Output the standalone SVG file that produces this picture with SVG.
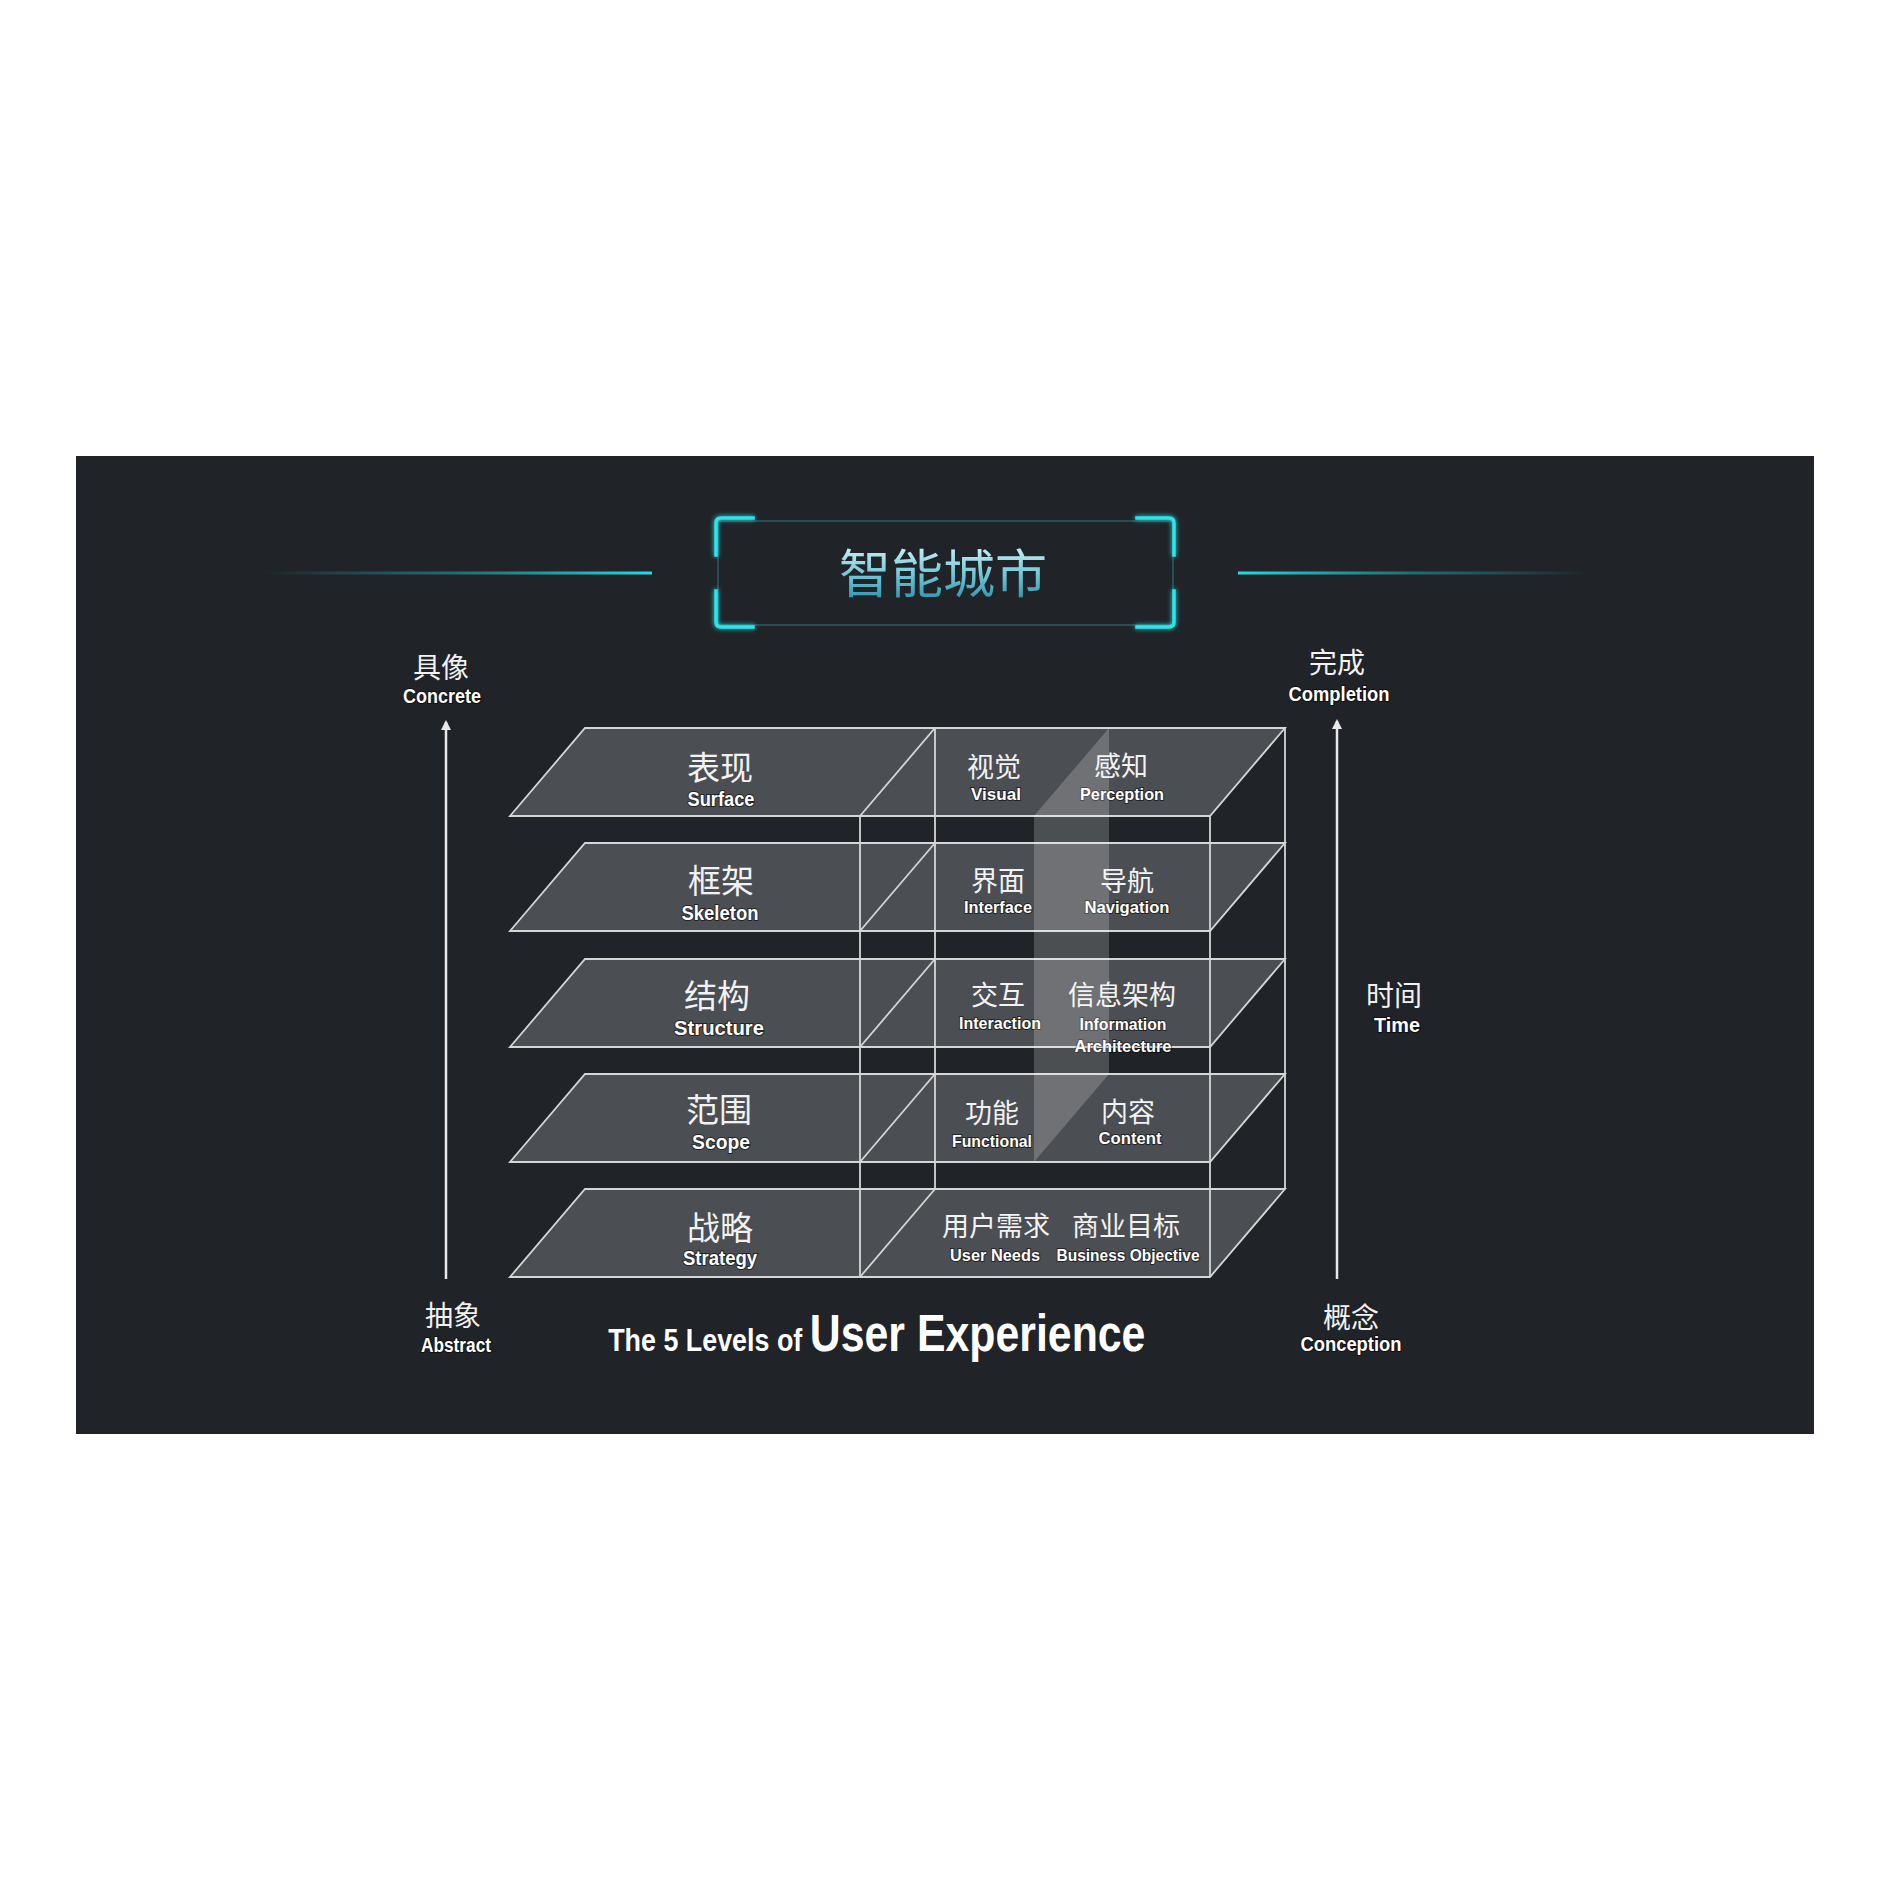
<svg xmlns="http://www.w3.org/2000/svg" width="1890" height="1890" viewBox="0 0 1890 1890">
  <defs>
    <linearGradient id="lineL" x1="262" y1="0" x2="652" y2="0" gradientUnits="userSpaceOnUse">
      <stop offset="0" stop-color="#20d4de" stop-opacity="0"/>
      <stop offset="0.5" stop-color="#20b8c2" stop-opacity="0.5"/>
      <stop offset="1" stop-color="#22dbe4" stop-opacity="1"/>
    </linearGradient>
    <linearGradient id="lineR" x1="1588" y1="0" x2="1238" y2="0" gradientUnits="userSpaceOnUse">
      <stop offset="0" stop-color="#20d4de" stop-opacity="0"/>
      <stop offset="0.5" stop-color="#20b8c2" stop-opacity="0.5"/>
      <stop offset="1" stop-color="#22dbe4" stop-opacity="1"/>
    </linearGradient>
    <linearGradient id="titleGrad" x1="0" y1="548" x2="0" y2="600" gradientUnits="userSpaceOnUse">
      <stop offset="0" stop-color="#c4eef4"/>
      <stop offset="0.55" stop-color="#6cc3d4"/>
      <stop offset="1" stop-color="#2f93ad"/>
    </linearGradient>
    <filter id="glow" x="-20%" y="-20%" width="140%" height="140%">
      <feGaussianBlur in="SourceGraphic" stdDeviation="2.5" result="b"/>
      <feMerge>
        <feMergeNode in="b"/>
        <feMergeNode in="SourceGraphic"/>
      </feMerge>
    </filter>
    <marker id="arrow" viewBox="0 0 10 10" refX="8" refY="5" markerWidth="10" markerHeight="10" markerUnits="userSpaceOnUse" orient="auto">
      <path d="M0,0 L10,5 L0,10 Z" fill="#e8e8e8"/>
    </marker>
    <style>
      .layer { fill: #4b4e52; stroke: #d6d6d6; stroke-width: 1.8; stroke-linejoin: miter; }
      .edge { stroke: #d6d6d6; stroke-width: 1.8; fill: none; }
      .cjk { font-family: "Noto Sans CJK SC", "Noto Sans", sans-serif; fill: #f2f2f2; text-anchor: middle; }
      .big { font-size: 33px; }
      .mid { font-size: 27px; }
      .axis { font-size: 28px; }
      .en { font-family: "Liberation Sans", Arial, sans-serif; font-weight: bold; fill: #ffffff; text-anchor: middle;
            stroke: rgba(0,0,0,0.55); stroke-width: 2; paint-order: stroke; }
      .en20 { font-size: 20px; }
      .en17 { font-size: 17px; }
      .axisline { stroke: #e8e8e8; stroke-width: 2.5; fill: none; }
      .cyan { stroke: #2ee3ea; stroke-width: 3.5; fill: none; stroke-linecap: square; }
      .cap { font-family: "Liberation Sans", Arial, sans-serif; font-weight: bold; fill: #ffffff; }
    </style>
  </defs>

  <rect x="0" y="0" width="1890" height="1890" fill="#ffffff"/>
  <rect x="76" y="456" width="1738" height="978" fill="#202327"/>

  <!-- Title -->
  <g id="title">
    <line x1="262" y1="573" x2="652" y2="573" stroke="url(#lineL)" stroke-width="3"/>
    <line x1="1238" y1="573" x2="1588" y2="573" stroke="url(#lineR)" stroke-width="3"/>
    <rect x="718" y="521" width="455" height="104" fill="none" stroke="#2b6b72" stroke-width="1.2"/>
    <g filter="url(#glow)">
      <path class="cyan" d="M716,555 V523 Q716,518 721,518 H753"/>
      <path class="cyan" d="M1174,555 V523 Q1174,518 1169,518 H1137"/>
      <path class="cyan" d="M716,591 V622 Q716,627 721,627 H753"/>
      <path class="cyan" d="M1174,591 V622 Q1174,627 1169,627 H1137"/>
    </g>
    <text x="943" y="593" font-family="'Noto Sans CJK SC', 'Noto Sans', sans-serif" font-size="52" fill="url(#titleGrad)" text-anchor="middle">智能城市</text>
  </g>

  <!-- Layer 1: Surface -->
  <g id="layer-surface">
    <polygon class="layer" points="585,728 1285,728 1210,816 510,816"/>
    <line class="edge" x1="935" y1="728" x2="860" y2="816"/>
    <text class="cjk big" x="720" y="780">表现</text>
    <text class="en en20" x="721" y="806" textLength="67" lengthAdjust="spacingAndGlyphs">Surface</text>
    <text class="cjk mid" x="994" y="777">视觉</text>
    <text class="en en17" x="996" y="800" textLength="50" lengthAdjust="spacingAndGlyphs">Visual</text>
    <text class="cjk mid" x="1121" y="776">感知</text>
    <text class="en en17" x="1122" y="800" textLength="84" lengthAdjust="spacingAndGlyphs">Perception</text>
  </g>

  <!-- Layer 2: Skeleton -->
  <g id="layer-skeleton">
    <polygon class="layer" points="585,843 1285,843 1210,931 510,931"/>
    <line class="edge" x1="935" y1="843" x2="860" y2="931"/>
    <text class="cjk big" x="721" y="893">框架</text>
    <text class="en en20" x="720" y="920" textLength="77" lengthAdjust="spacingAndGlyphs">Skeleton</text>
    <text class="cjk mid" x="998" y="891">界面</text>
    <text class="en en17" x="998" y="913" textLength="68" lengthAdjust="spacingAndGlyphs">Interface</text>
    <text class="cjk mid" x="1127" y="891">导航</text>
    <text class="en en17" x="1127" y="913" textLength="85" lengthAdjust="spacingAndGlyphs">Navigation</text>
  </g>

  <!-- Layer 3: Structure -->
  <g id="layer-structure">
    <polygon class="layer" points="585,959 1285,959 1210,1047 510,1047"/>
    <line class="edge" x1="935" y1="959" x2="860" y2="1047"/>
    <text class="cjk big" x="717" y="1008">结构</text>
    <text class="en en20" x="719" y="1035" textLength="90" lengthAdjust="spacingAndGlyphs">Structure</text>
    <text class="cjk mid" x="998" y="1005">交互</text>
    <text class="en en17" x="1000" y="1029" textLength="82" lengthAdjust="spacingAndGlyphs">Interaction</text>
    <text class="cjk mid" x="1122" y="1005">信息架构</text>
    <text class="en en17" x="1123" y="1030" textLength="87" lengthAdjust="spacingAndGlyphs">Information</text>
    <text class="en en17" x="1123" y="1052" textLength="97" lengthAdjust="spacingAndGlyphs">Architecture</text>
  </g>

  <!-- Layer 4: Scope -->
  <g id="layer-scope">
    <polygon class="layer" points="585,1074 1285,1074 1210,1162 510,1162"/>
    <line class="edge" x1="935" y1="1074" x2="860" y2="1162"/>
    <text class="cjk big" x="719" y="1122">范围</text>
    <text class="en en20" x="721" y="1149" textLength="58" lengthAdjust="spacingAndGlyphs">Scope</text>
    <text class="cjk mid" x="992" y="1123">功能</text>
    <text class="en en17" x="992" y="1147" textLength="80" lengthAdjust="spacingAndGlyphs">Functional</text>
    <text class="cjk mid" x="1128" y="1122">内容</text>
    <text class="en en17" x="1130" y="1144" textLength="63" lengthAdjust="spacingAndGlyphs">Content</text>
  </g>

  <!-- Layer 5: Strategy -->
  <g id="layer-strategy">
    <polygon class="layer" points="585,1189 1285,1189 1210,1277 510,1277"/>
    <line class="edge" x1="935" y1="1189" x2="860" y2="1277"/>
    <text class="cjk big" x="720" y="1240">战略</text>
    <text class="en en20" x="720" y="1265" textLength="74" lengthAdjust="spacingAndGlyphs">Strategy</text>
    <text class="cjk mid" x="996" y="1236">用户需求</text>
    <text class="en en17" x="995" y="1261" textLength="90" lengthAdjust="spacingAndGlyphs">User Needs</text>
    <text class="cjk mid" x="1126" y="1236">商业目标</text>
    <text class="en en17" x="1128" y="1261" textLength="143" lengthAdjust="spacingAndGlyphs">Business Objective</text>
  </g>

  <!-- Wireframe box verticals -->
  <g id="wireframe">
    <line class="edge" x1="860" y1="816" x2="860" y2="1277"/>
    <line class="edge" x1="935" y1="728" x2="935" y2="1189"/>
    <line class="edge" x1="1210" y1="816" x2="1210" y2="1277"/>
    <line class="edge" x1="1285" y1="728" x2="1285" y2="1189"/>
  </g>

  <!-- Highlight band -->
  <g id="highlight-band">
    <polygon points="1034,816 1109,728 1109,1074 1034,1162" fill="#ffffff" fill-opacity="0.2"/>
  </g>

  <!-- Axis labels -->
  <g id="label-concrete">
    <text class="cjk axis" x="441" y="678">具像</text>
    <text class="en en20" x="442" y="703" textLength="78" lengthAdjust="spacingAndGlyphs">Concrete</text>
  </g>
  <g id="label-abstract">
    <text class="cjk axis" x="453" y="1326">抽象</text>
    <text class="en en20" x="456" y="1352" textLength="70" lengthAdjust="spacingAndGlyphs">Abstract</text>
  </g>
  <g id="label-completion">
    <text class="cjk axis" x="1337" y="673">完成</text>
    <text class="en en20" x="1339" y="701" textLength="101" lengthAdjust="spacingAndGlyphs">Completion</text>
  </g>
  <g id="label-time">
    <text class="cjk axis" x="1394" y="1006">时间</text>
    <text class="en en20" x="1397" y="1032" textLength="46" lengthAdjust="spacingAndGlyphs">Time</text>
  </g>
  <g id="label-conception">
    <text class="cjk axis" x="1351" y="1328">概念</text>
    <text class="en en20" x="1351" y="1351" textLength="101" lengthAdjust="spacingAndGlyphs">Conception</text>
  </g>

  <!-- Caption -->
  <g id="caption">
    <text class="cap" transform="scale(0.84,1)" x="724" y="1351"><tspan font-size="32">The 5 Levels of </tspan><tspan font-size="51">User Experience</tspan></text>
  </g>

  <!-- Connectors (axis arrows) -->
  <g id="connectors">
    <line class="axisline" x1="446" y1="1279" x2="446" y2="722" marker-end="url(#arrow)"/>
    <line class="axisline" x1="1337" y1="1279" x2="1337" y2="721" marker-end="url(#arrow)"/>
  </g>
</svg>
